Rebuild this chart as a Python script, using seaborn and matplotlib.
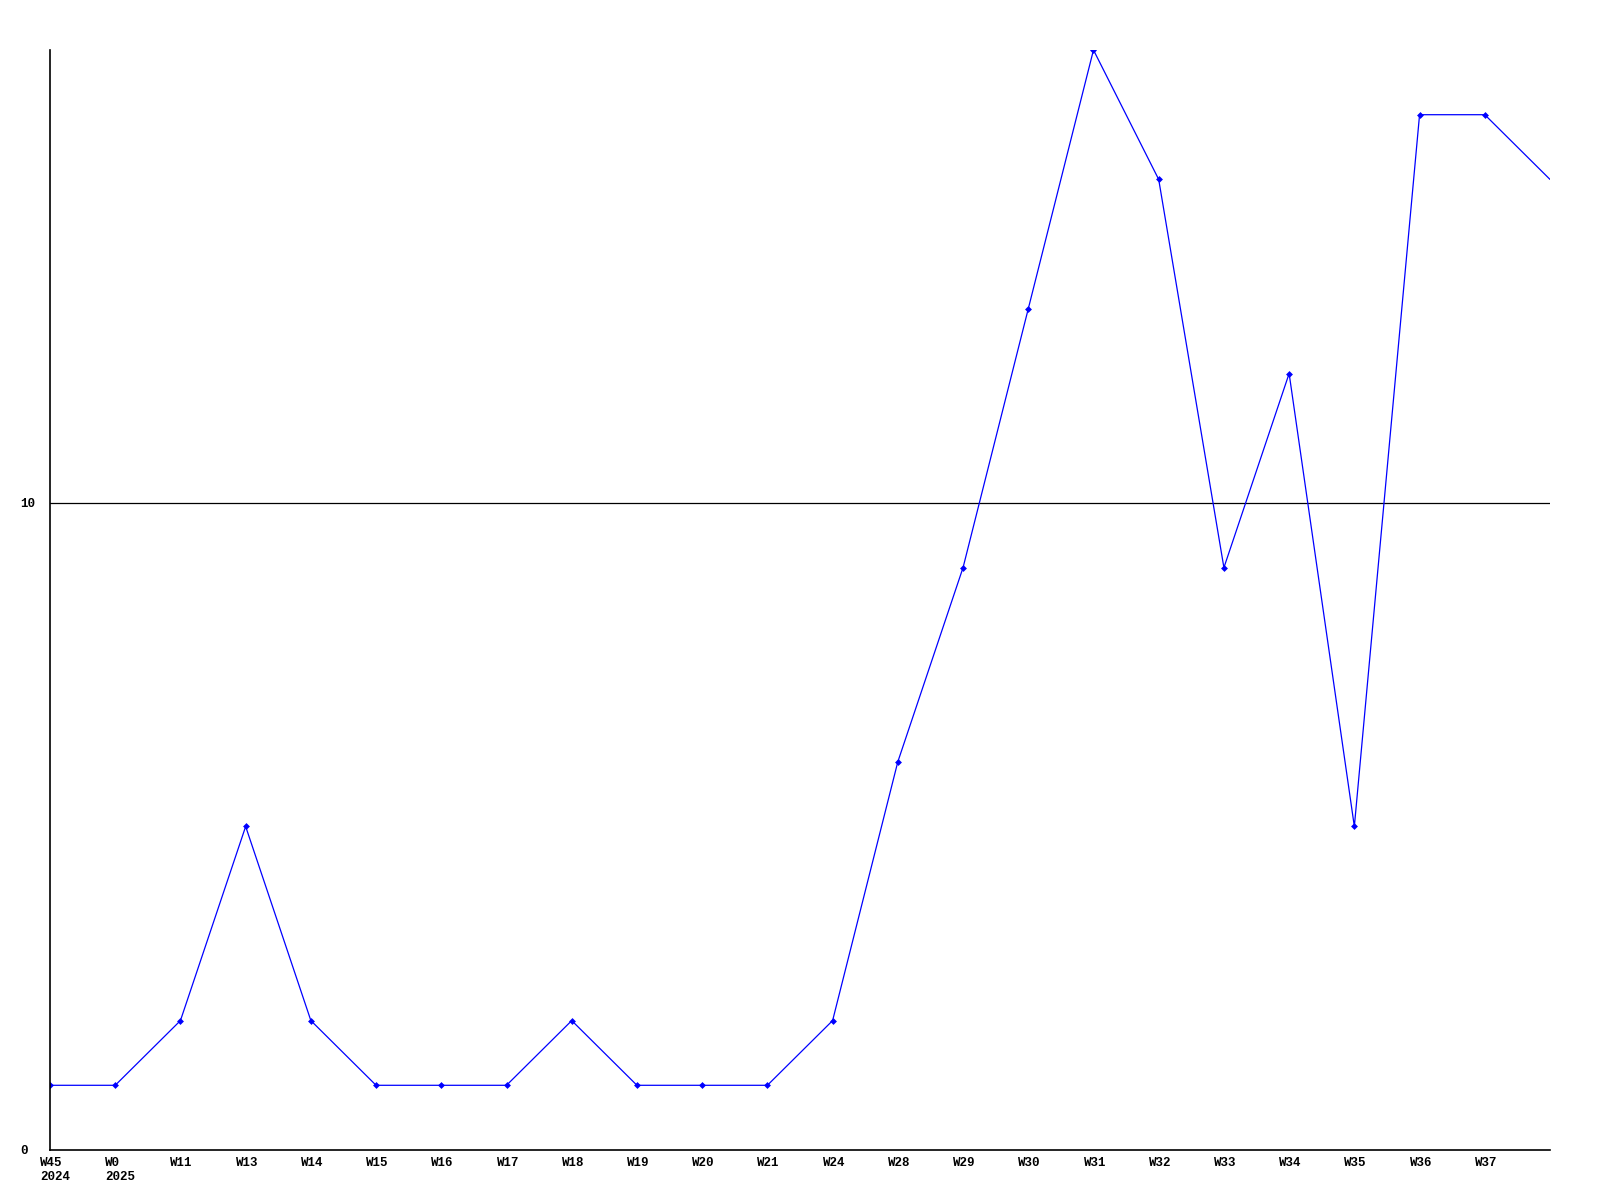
import matplotlib
matplotlib.use("Agg")
import matplotlib.pyplot as plt
import matplotlib.transforms as mtransforms
import seaborn as sns
import pandas as pd

weeks = ["W45\n2024", "W0\n2025", "W11", "W13", "W14", "W15", "W16", "W17", "W18",
         "W19", "W20", "W21", "W24", "W28", "W29", "W30", "W31", "W32", "W33",
         "W34", "W35", "W36", "W37", ""]
values = [1, 1, 2, 5, 2, 1, 1, 1, 2, 1, 1, 1, 2, 6, 9, 13, 17, 15, 9, 12, 5, 16, 16, 15]
ytick_vals = [0, 10]

df = pd.DataFrame({"pos": list(range(len(values))), "value": values})

sns.set_theme(style="white")
plt.rcParams["font.family"] = ["Liberation Mono", "DejaVu Sans Mono"]

fig = plt.figure(figsize=(16, 12), dpi=100)
ax = fig.add_axes([50 / 1600, 50 / 1200, 1500 / 1600, 1100 / 1200])

sns.lineplot(data=df, x="pos", y="value", ax=ax, color="#0000ff", linewidth=0.9)
mk = df.iloc[:-1]
ax.plot(mk["pos"], mk["value"], linestyle="none", marker="D", markersize=3.5,
        color="#0000ff", markeredgewidth=0)

ax.set_xlim(0, len(values) - 1)
ax.set_ylim(0, 17)
ax.axhline(10, color="black", linewidth=0.9, zorder=1)

ax.set_xticks(list(range(len(weeks))))
ax.set_xticklabels(weeks, fontsize=9, fontweight="bold", ha="left", va="top",
                   linespacing=1.2)
ax.set_yticks(ytick_vals)
ax.set_yticklabels([str(v) for v in ytick_vals], fontsize=9, fontweight="bold",
                   ha="left")
ax.tick_params(axis="both", length=0, colors="black")
ax.tick_params(axis="x", pad=5)
ax.tick_params(axis="y", pad=0)
ax.set_xlabel("")
ax.set_ylabel("")

for s in ["top", "right"]:
    ax.spines[s].set_visible(False)
for s in ["left", "bottom"]:
    ax.spines[s].set_color("black")
    ax.spines[s].set_linewidth(1.2)
ax.grid(False)

fig.canvas.draw()
xoff = mtransforms.ScaledTranslation(-10 / 100, 0, fig.dpi_scale_trans)
for lbl in ax.get_xticklabels():
    lbl.set_transform(lbl.get_transform() + xoff)
yoff = mtransforms.ScaledTranslation(-30 / 100, 0, fig.dpi_scale_trans)
for lbl in ax.get_yticklabels():
    lbl.set_transform(lbl.get_transform() + yoff)

fig.savefig("out.png", dpi=100, facecolor="white")
